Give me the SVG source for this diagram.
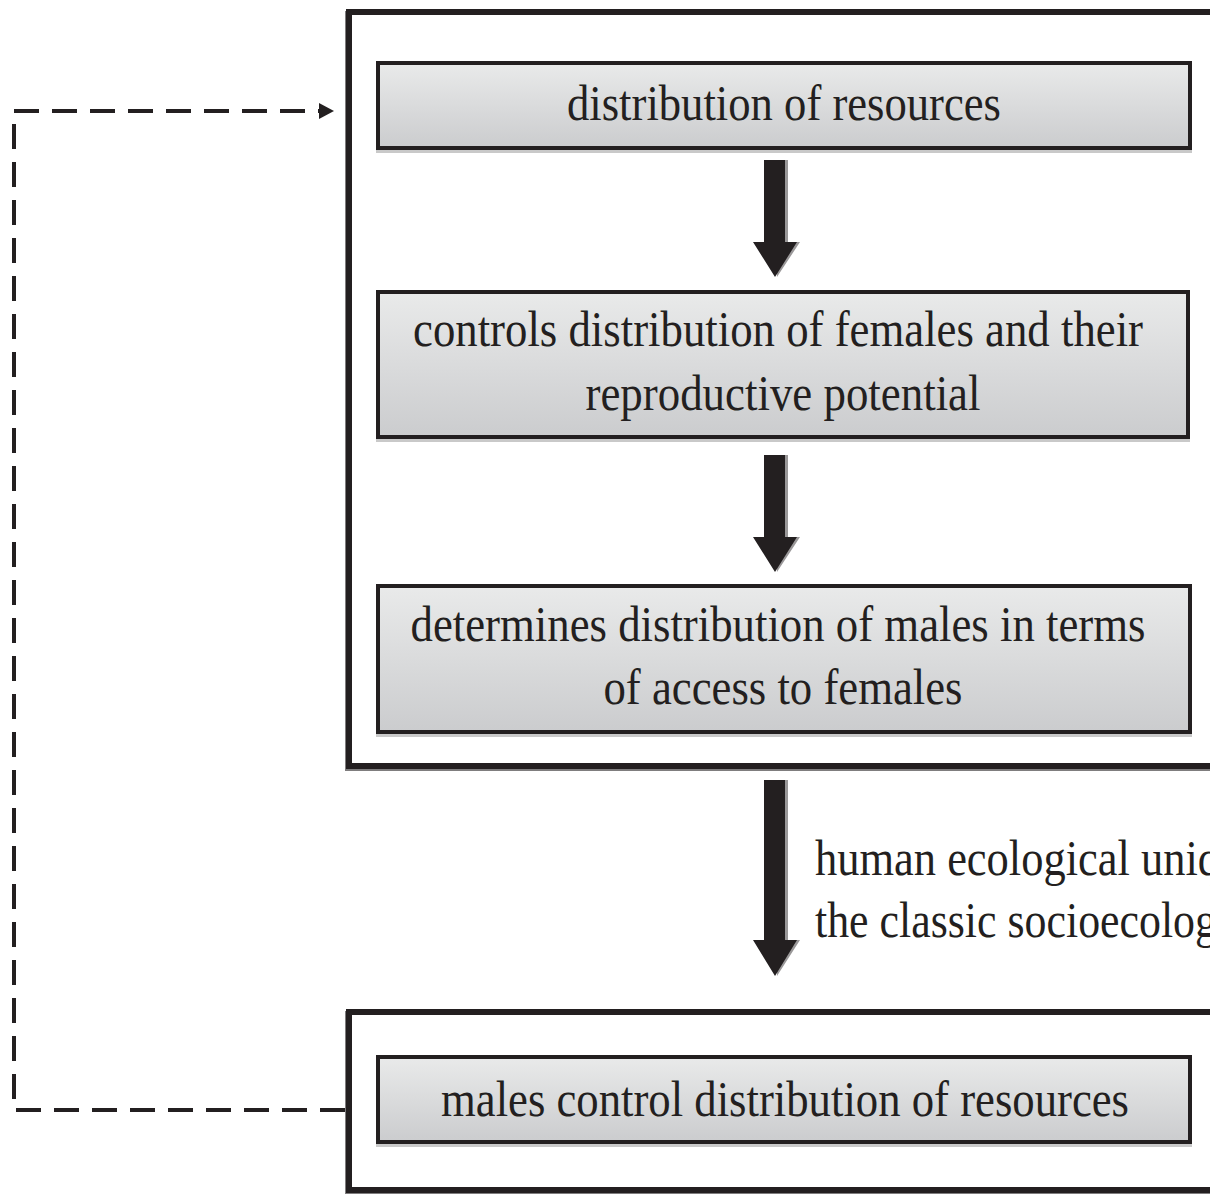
<svg xmlns="http://www.w3.org/2000/svg" width="1210" height="1194" viewBox="0 0 1210 1194">
<defs>
<linearGradient id="g" x1="0" y1="0" x2="0" y2="1">
<stop offset="0" stop-color="#e9eaea"/>
<stop offset="1" stop-color="#cbccce"/>
</linearGradient>
<marker id="ah" markerWidth="6" markerHeight="6" refX="5" refY="3" orient="auto" markerUnits="userSpaceOnUse" viewBox="0 0 6 6">
<path d="M0,0 L6,3 L0,6 Z" fill="#231f20"/>
</marker>
</defs>
<style>
.frame{fill:#fff;stroke:#231f20;stroke-width:6}
.frameS{fill:none;stroke:#7f7d7e;stroke-width:6}
.box{fill:url(#g);stroke:#231f20;stroke-width:4}
.boxS{fill:none;stroke:#c9c9c9;stroke-width:4}
.t{font-family:"Liberation Serif","Times New Roman",serif;font-size:50px;fill:#231f20;text-anchor:middle}
.ts{font-family:"Liberation Serif","Times New Roman",serif;font-size:50px;fill:#231f20}
.arr{fill:#231f20}
.arrS{fill:#9a9899}
.dash{fill:none;stroke:#231f20;stroke-width:4;stroke-dasharray:25 13}
</style>
<rect width="1210" height="1194" fill="#fff"/>
<g id="connectors">
<path class="dash" d="M345,1110 L14,1110 L14,111 L322,111"/>
<path d="M319,103 L334,111 L319,119 Z" fill="#231f20"/>
</g>
<g id="frame1">
<rect class="frameS" x="348" y="14" width="900" height="754"/>
<rect class="frame" x="349" y="12" width="900" height="754"/>
</g>
<g id="frame2">
<rect class="frameS" x="348" y="1014" width="900" height="180"/>
<rect class="frame" x="349" y="1012" width="900" height="178"/>
</g>
<g id="node1">
<rect class="boxS" x="378" y="66" width="812" height="85"/>
<rect class="box" x="378" y="63" width="812" height="85"/>
<text class="t" x="784" y="120" textLength="434" lengthAdjust="spacingAndGlyphs">distribution of resources</text>
</g>
<g id="arrow1">
<path class="arrS" d="M767,160 L788,160 L788,242 L800,242 L777,277 Z"/>
<path class="arr" d="M764,160 L785,160 L785,242 L797,242 L775,277 L753,242 L764,242 Z"/>
</g>
<g id="node2">
<rect class="boxS" x="378" y="295" width="810" height="145"/>
<rect class="box" x="378" y="292" width="810" height="145"/>
<text class="t" x="778" y="346" textLength="730" lengthAdjust="spacingAndGlyphs">controls distribution of females and their</text>
<text class="t" x="783" y="410" textLength="395" lengthAdjust="spacingAndGlyphs">reproductive potential</text>
</g>
<g id="arrow2">
<path class="arrS" d="M767,455 L788,455 L788,537 L800,537 L777,572 Z"/>
<path class="arr" d="M764,455 L785,455 L785,537 L797,537 L775,572 L753,537 L764,537 Z"/>
</g>
<g id="node3">
<rect class="boxS" x="378" y="589" width="812" height="146"/>
<rect class="box" x="378" y="586" width="812" height="146"/>
<text class="t" x="778" y="641" textLength="735" lengthAdjust="spacingAndGlyphs">determines distribution of males in terms</text>
<text class="t" x="783" y="704" textLength="359" lengthAdjust="spacingAndGlyphs">of access to females</text>
</g>
<g id="arrow3">
<path class="arrS" d="M767,780 L788,780 L788,940 L800,940 L777,976 Z"/>
<path class="arr" d="M764,780 L785,780 L785,940 L797,940 L775,976 L753,940 L764,940 Z"/>
</g>
<g id="label">
<text class="ts" x="815" y="875" textLength="405" lengthAdjust="spacingAndGlyphs">human ecological uniq</text>
<text class="ts" x="815" y="937" textLength="402" lengthAdjust="spacingAndGlyphs">the classic socioecolog</text>
</g>
<g id="node4">
<rect class="boxS" x="378" y="1060" width="812" height="85"/>
<rect class="box" x="378" y="1057" width="812" height="85"/>
<text class="t" x="785" y="1116" textLength="688" lengthAdjust="spacingAndGlyphs">males control distribution of resources</text>
</g>
</svg>
